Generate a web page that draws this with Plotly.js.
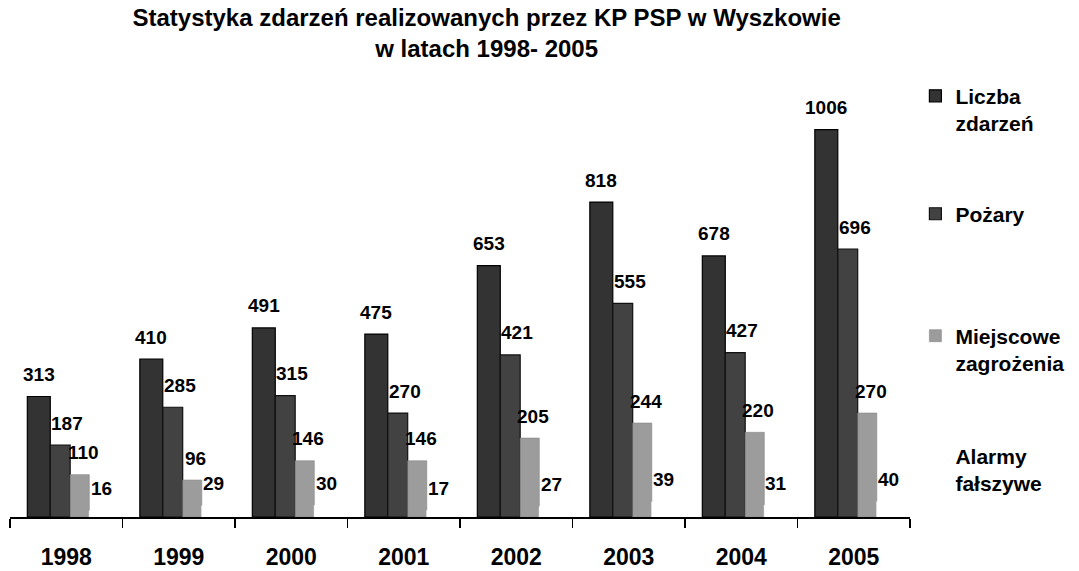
<!DOCTYPE html>
<html>
<head>
<meta charset="utf-8">
<script src="https://cdn.plot.ly/plotly-3.0.1.min.js"></script>
<style>html,body{margin:0;padding:0;background:#fff;}#chart{width:1079px;height:571px;}</style>
</head>
<body>
<div id="chart"></div>
<script>
const years = ['1998','1999','2000','2001','2002','2003','2004','2005'];
const liczba = [313, 410, 491, 475, 653, 818, 678, 1006];
const pozary = [187, 285, 315, 270, 421, 555, 427, 696];
const miejscowe = [110, 96, 146, 146, 205, 244, 220, 270];
const alarmy = [16, 29, 30, 17, 27, 39, 31, 40];
const seriesNames = ['Liczba<br>zdarzeń', 'Pożary', 'Miejscowe<br>zagrożenia', 'Alarmy<br>fałszywe'];

const FONT = 'Liberation Sans, Arial, sans-serif';
const series = [liczba, pozary, miejscowe, alarmy];
const fills = ['#333333', '#424242', '#9c9c9c', '#ffffff'];
const lines = ['#000000', '#111111', '#858585', '#ffffff'];
const offsets = [-0.346, -0.142, 0.035, 0.204];
const widths = [0.204, 0.177, 0.17, 0.17];
const labelShift = [-0.245, 0.01, 0.15, 0.31];
const legendIds = ['legend', 'legend2', 'legend3', 'legend4'];

const traces = series.map((vals, k) => ({
  type: 'bar',
  name: seriesNames[k],
  x: years,
  y: vals,
  offset: offsets[k],
  width: widths[k],
  marker: {color: fills[k], line: {color: lines[k], width: k < 2 ? 1.2 : 0.6}},
  legend: legendIds[k],
  hoverinfo: 'x+y'
}));

const annotations = [];
series.forEach((vals, k) => {
  vals.forEach((v, i) => {
    annotations.push({
      x: i + labelShift[k], y: v, xref: 'x', yref: 'y',
      text: String(v), showarrow: false,
      yanchor: 'middle', xanchor: 'center', yshift: 22,
      font: {family: FONT, size: 19, color: '#000', weight: 700}
    });
  });
});

const legendBase = {
  xanchor: 'left', yanchor: 'top', x: 1.006,
  bgcolor: 'rgba(0,0,0,0)', borderwidth: 0, valign: 'top',
  font: {family: FONT, size: 21, color: '#000', weight: 700},
  itemclick: false, itemdoubleclick: false
};
const legendY = [1.010, 0.740, 0.461, 0.186];

const layout = {
  width: 1079, height: 571,
  margin: {l: 10, r: 167, t: 80, b: 54},
  paper_bgcolor: '#ffffff', plot_bgcolor: '#ffffff',
  barmode: 'overlay',
  title: {
    text: 'Statystyka zdarzeń realizowanych przez KP PSP w Wyszkowie<br>w latach 1998- 2005',
    x: 0.451, xanchor: 'center', xref: 'container',
    y: 0.955, yanchor: 'top', yref: 'container',
    font: {family: FONT, size: 24, color: '#000', weight: 700}
  },
  xaxis: {
    type: 'category', range: [-0.5, 7.5],
    showline: true, linecolor: '#000', linewidth: 1.5,
    ticks: 'outside', tickson: 'boundaries', ticklen: 9, tickcolor: '#000', tickwidth: 1.5,
    showgrid: false, zeroline: false,
    ticklabelstandoff: 19,
    tickfont: {family: FONT, size: 23, color: '#000', weight: 700},
    fixedrange: true
  },
  yaxis: {range: [0, 1135], visible: false, showgrid: false, zeroline: false, fixedrange: true},
  annotations: annotations,
  showlegend: true
};
legendIds.forEach((id, k) => {
  layout[id] = Object.assign({}, legendBase, {y: legendY[k]});
});

Plotly.newPlot('chart', traces, layout, {displayModeBar: false, staticPlot: true});
</script>
</body>
</html>
